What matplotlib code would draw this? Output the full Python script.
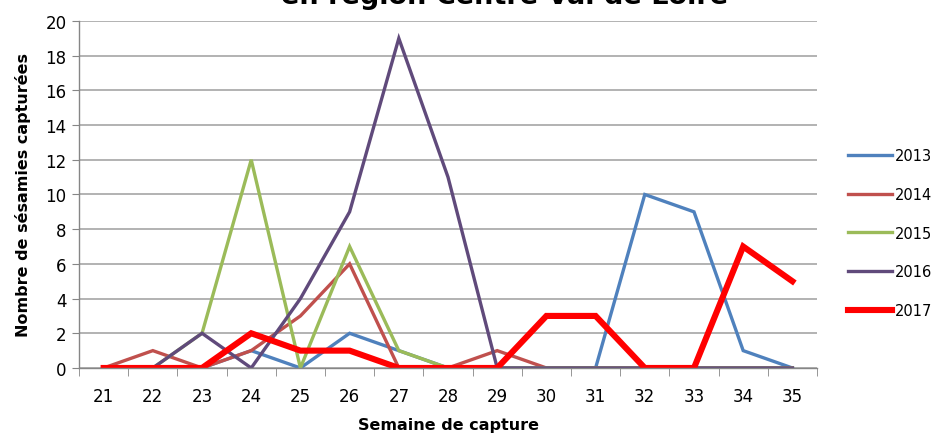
import matplotlib
matplotlib.use("Agg")
import matplotlib.pyplot as plt
from matplotlib.ticker import FixedLocator

weeks = list(range(21, 36))
s2013 = [0, 0, 0, 1, 0, 2, 1, 0, 0, 0, 0, 10, 9, 1, 0]
s2014 = [0, 1, 0, 1, 3, 6, 0, 0, 1, 0, 0, 0, 0, 0, 0]
s2015 = [0, 0, 2, 12, 0, 7, 1, 0, 0, 0, 0, 0, 0, 0, 0]
s2016 = [0, 0, 2, 0, 4, 9, 19, 11, 0, 0, 0, 0, 0, 0, 0]
s2017 = [0, 0, 0, 2, 1, 1, 0, 0, 0, 3, 3, 0, 0, 7, 5]
series_names = ["2013", "2014", "2015", "2016", "2017"]
yticks = list(range(0, 21, 2))
title = "en région Centre-Val de Loire"
xlabel = "Semaine de capture"
ylabel = "Nombre de sésamies capturées"

colors = ["#4F81BD", "#C0504D", "#9BBB59", "#604A7B", "#FF0000"]
widths = [2.4, 2.4, 2.4, 2.4, 4.4]

fig = plt.figure(figsize=(9.41, 4.39), dpi=100)
ax = fig.add_axes([0.0840, 0.1595, 0.7842, 0.7904])

for name, vals, c, lw in zip(series_names, [s2013, s2014, s2015, s2016, s2017], colors, widths):
    ax.plot(weeks, vals, color=c, lw=lw, label=name, solid_joinstyle="miter")

ax.set_xlim(20.5, 35.5)
ax.set_ylim(0, 20)
ax.set_yticks(yticks)
ax.set_xticks(weeks)
ax.xaxis.set_minor_locator(FixedLocator([w - 0.5 for w in weeks] + [35.5]))
ax.tick_params(axis="x", which="major", length=0, pad=14, labelsize=12)
ax.tick_params(axis="x", which="minor", length=6, color="#868686", direction="out")
ax.tick_params(axis="y", length=5, color="#868686", labelsize=12, pad=4)
ax.grid(axis="y", color="#A6A6A6", lw=1.2)
ax.set_axisbelow(True)
for s in ["top", "right"]:
    ax.spines[s].set_visible(False)
for s in ["left", "bottom"]:
    ax.spines[s].set_color("#868686")
    ax.spines[s].set_linewidth(1.0)

ax.set_xlabel(xlabel, fontsize=11.5, fontweight="bold", labelpad=8)
ax.set_ylabel(ylabel, fontsize=11.5, fontweight="bold", labelpad=10)

fig.text(505 / 941, 1 - 4 / 439, title, ha="center", va="baseline",
         fontsize=19.5, fontweight="bold")

leg = ax.legend(loc="center left", bbox_to_anchor=(1.042, 0.389), frameon=False,
                borderpad=0, borderaxespad=0,
                fontsize=10.5, handlelength=3.0, handletextpad=0.25, labelspacing=1.62)

fig.savefig("out.png", dpi=100)
